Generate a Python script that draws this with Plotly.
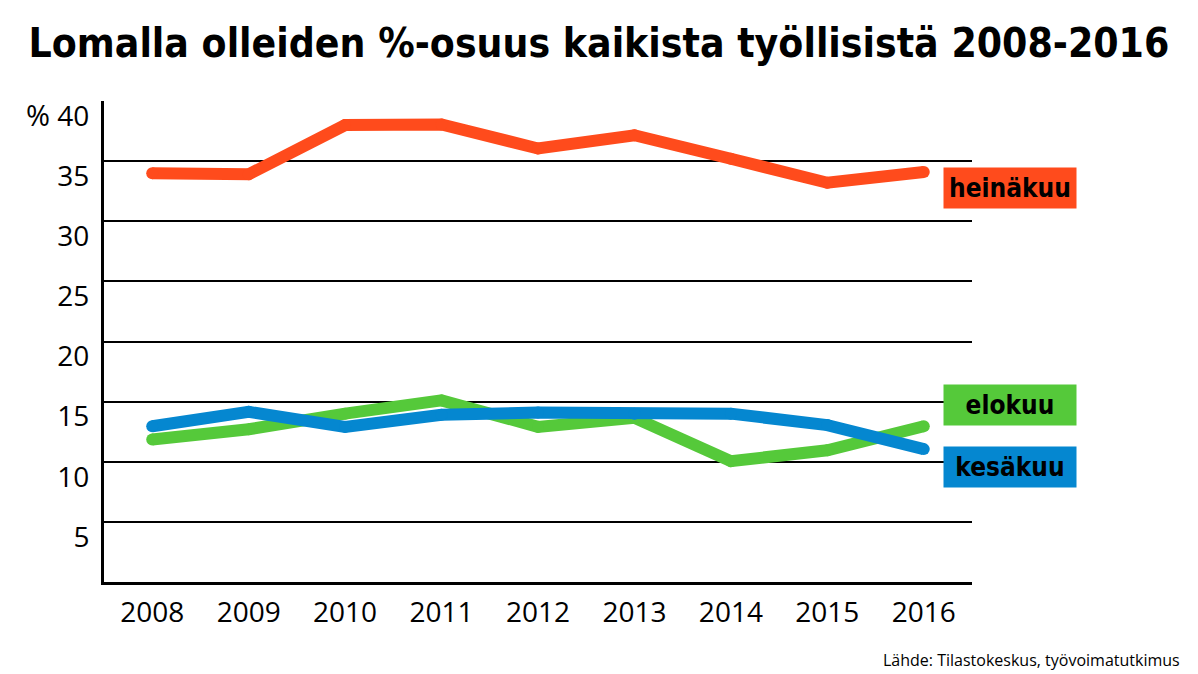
import plotly.graph_objects as go

years = [2008, 2009, 2010, 2011, 2012, 2013, 2014, 2015, 2016]
heinakuu = [34.0, 33.9, 38.0, 38.05, 36.05, 37.15, 35.2, 33.2, 34.1]
elokuu = [11.85, 12.7, 14.0, 15.1, 12.9, 13.65, 10.05, 10.95, 12.95]
kesakuu = [12.95, 14.15, 12.9, 13.9, 14.1, 14.0, 14.0, 13.05, 11.05]
y_ticks = [5, 10, 15, 20, 25, 30, 35, 40]

# name, values, colour, label position (y value)
series = [
    ("heinäkuu", heinakuu, "#ff4b1c", 32.8),
    ("elokuu", elokuu, "#55c93a", 14.75),
    ("kesäkuu", kesakuu, "#0587d0", 9.55),
]

cond = "DejaVu Sans Condensed, sans-serif"

fig = go.Figure()
for name, vals, color, _ in series:
    fig.add_trace(go.Scatter(x=years, y=vals, mode="lines+markers", name=name,
                             line=dict(color=color, width=12),
                             marker=dict(color=color, size=12, line=dict(width=0))))

for name, vals, color, ypos in series:
    fig.add_annotation(x=1.0438, xref="paper", xanchor="center", y=ypos, yref="y", yanchor="middle",
                       text="<b>%s</b>" % name, showarrow=False, bgcolor=color, width=130, height=38,
                       font=dict(family=cond, size=26, color="black"))

fig.add_annotation(x=-0.076, xref="paper", xanchor="center", y=0.971, yref="paper", yanchor="middle",
                   text="%", showarrow=False, font=dict(size=29))

fig.add_annotation(x=1.2419, xref="paper", xanchor="right", y=-0.162, yref="paper", yanchor="middle",
                   text="Lähde: Tilastokeskus, työvoimatutkimus", showarrow=False,
                   font=dict(family="Open Sans", size=16))

fig.update_layout(
    width=1190, height=666,
    margin=dict(l=96, r=226, t=93, b=92),
    paper_bgcolor="white", plot_bgcolor="white",
    showlegend=False,
    title=dict(text="<b>Lomalla olleiden %-osuus kaikista työllisistä 2008-2016</b>",
               x=0.4966, xanchor="center", y=0.948, yanchor="middle",
               font=dict(family=cond, size=40.5, color="black")),
    font=dict(family="Open Sans", size=28, color="black"),
)

fig.update_xaxes(range=[2007.5, 2016.5], tickvals=years, showgrid=False, zeroline=False,
                 showline=True, linecolor="black", linewidth=3, ticks="", ticklabelstandoff=3,
                 automargin=False)
fig.update_yaxes(range=[0, 40], tickvals=y_ticks, showgrid=True, gridcolor="black", gridwidth=2,
                 zeroline=False, showline=True, linecolor="black", linewidth=3, ticks="",
                 ticklabelshift=15, ticklabelstandoff=6, automargin=False)

fig.write_html("out.html")
